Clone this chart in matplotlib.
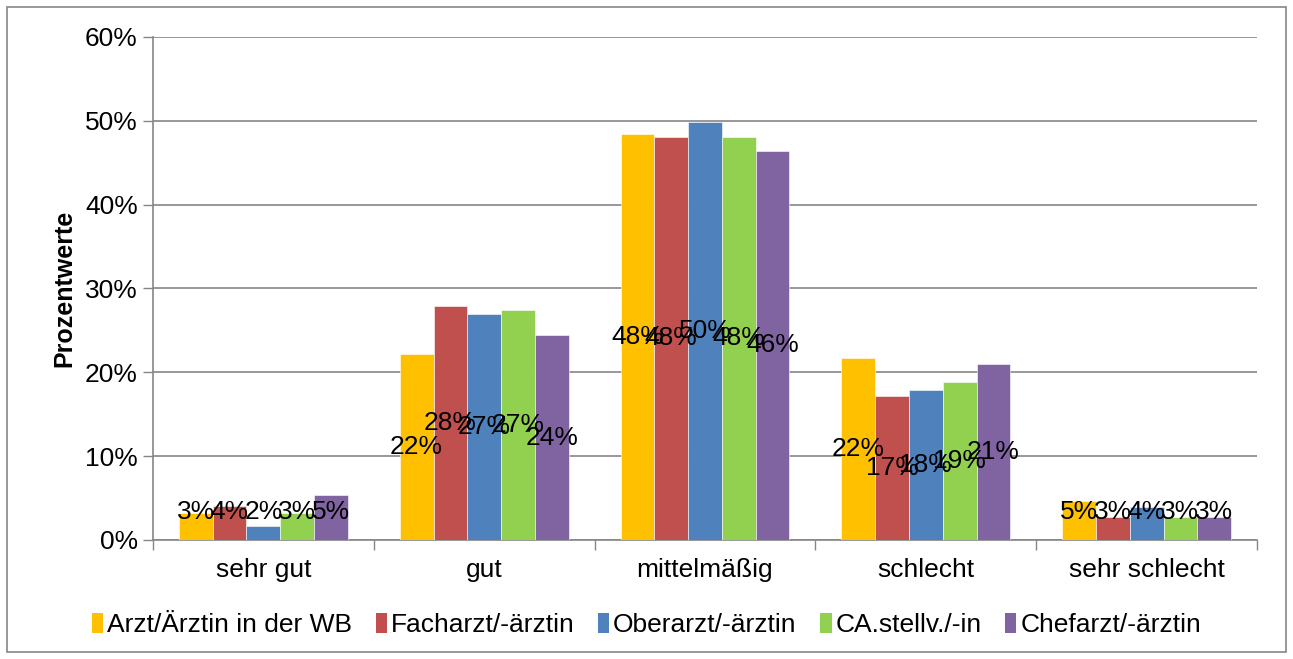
import numpy as np
import matplotlib.pyplot as plt
from matplotlib.patches import Rectangle, Patch

plt.rcParams['font.family'] = ['Liberation Sans', 'DejaVu Sans']

# ------------------ DATA ------------------ #
categories = ["sehr gut", "gut", "mittelmäßig", "schlecht", "sehr schlecht"]
series_names = ["Arzt/Ärztin in der WB", "Facharzt/-ärztin", "Oberarzt/-ärztin",
                "CA.stellv./-in", "Chefarzt/-ärztin"]
arzt_wb = [3.2, 22.2, 48.4, 21.7, 4.7]
facharzt = [4.0, 27.9, 48.1, 17.2, 2.8]
oberarzt = [1.7, 27.0, 49.8, 17.9, 3.9]
ca_stellv = [3.2, 27.4, 48.1, 18.8, 2.8]
chefarzt = [5.4, 24.4, 46.4, 21.0, 2.8]
colors = ["#FFC000", "#C0504D", "#4F81BD", "#92D050", "#8064A2"]

all_series = [arzt_wb, facharzt, oberarzt, ca_stellv, chefarzt]

# ------------------ PLOT ------------------ #
fig = plt.figure(figsize=(12.93, 6.59), dpi=100)
ax = fig.add_axes([0.1183, 0.1806, 0.8539, 0.7633])

x = np.arange(len(categories))
bar_w = 0.153
for i, (vals, name, col) in enumerate(zip(all_series, series_names, colors)):
    pos = x + (i - 2) * bar_w
    ax.bar(pos, vals, width=bar_w, color=col, label=name, zorder=3,
           edgecolor="white", linewidth=0.4)
    # Excel-style "center" labels, kept above the axis for short bars
    for px, v in zip(pos, vals):
        ax.text(px, max(v / 2, 3.3), f"{round(v):.0f}%", ha="center", va="center",
                fontsize=19, color="black", zorder=5)

ax.set_xlim(-0.5, len(categories) - 0.5)
ax.set_ylim(0, 60)
ax.set_yticks(np.arange(0, 61, 10))
ax.set_yticklabels([f"{t}%" for t in range(0, 61, 10)], fontsize=19)
ax.set_xticks(x)
ax.set_xticklabels(categories, fontsize=19)
ax.set_xticks(np.arange(-0.5, len(categories), 1), minor=True)
ax.tick_params(axis="x", which="major", length=0, pad=13)
ax.tick_params(axis="x", which="minor", length=7, color="#868686", width=1)
ax.tick_params(axis="y", length=7, color="#868686", width=1, pad=4)

ax.grid(axis="y", color="#868686", linewidth=1.2, zorder=0)
for s in ["top", "right"]:
    ax.spines[s].set_visible(False)
for s in ["left", "bottom"]:
    ax.spines[s].set_color("#868686")
    ax.spines[s].set_linewidth(1.2)

ax.set_ylabel("Prozentwerte", fontsize=18, fontweight="bold", labelpad=6)

handles = [Patch(facecolor=c, edgecolor="none") for c in colors]
fig.legend(handles, series_names, loc="center", bbox_to_anchor=(0.5, 0.052), ncol=5,
           frameon=False, fontsize=19, handlelength=0.42, handleheight=0.8,
           handletextpad=0.15, columnspacing=0.9)

# chart area border
fig.patches.append(Rectangle((0.0055, 0.0106), 0.989, 0.9788, transform=fig.transFigure,
                             fill=False, edgecolor="#868686", linewidth=1.2))

fig.savefig("out.png", dpi=100)
